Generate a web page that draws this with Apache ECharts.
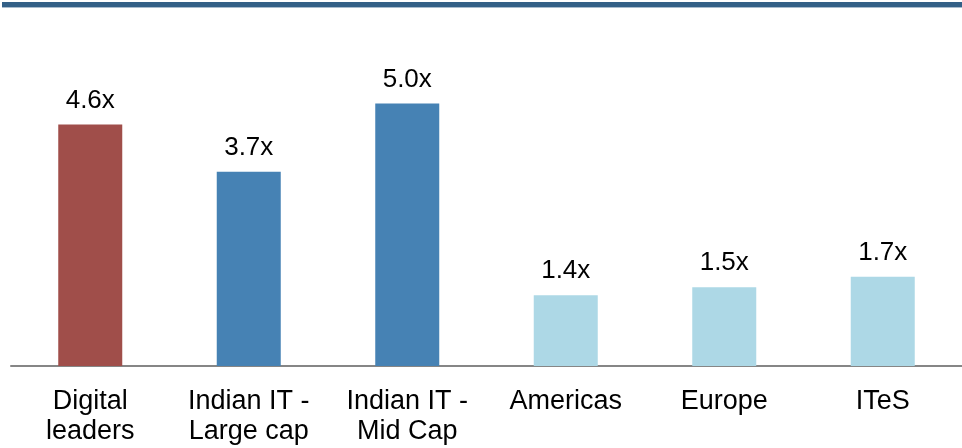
<!DOCTYPE html>
<html><head><meta charset="utf-8">
<script src="https://cdn.jsdelivr.net/npm/echarts@6/dist/echarts.min.js"></script>
<style>html,body{margin:0;padding:0;background:#fff}#c{width:962px;height:448px}</style>
</head><body><div id="c"></div>
<script>
const categories = ["Digital\nleaders", "Indian IT -\nLarge cap", "Indian IT -\nMid Cap", "Americas", "Europe", "ITeS"];
const values = [4.6, 3.7, 5.0, 1.35, 1.5, 1.7];
const barColors = ["#A04E4A", "#4682B4", "#4682B4", "#ADD8E6", "#ADD8E6", "#ADD8E6"];

const chart = echarts.init(document.getElementById('c'), null, {renderer: 'canvas'});
chart.setOption({
  animation: false,
  graphic: [
    {type: 'rect', shape: {x: 2, y: 2, width: 962, height: 5}, style: {fill: '#336087'}},
    {type: 'rect', shape: {x: 2, y: 7, width: 962, height: 1}, style: {fill: '#A9BCCD'}}
  ],
  grid: {left: 11, top: 51, width: 962, height: 315, containLabel: false},
  xAxis: {
    type: 'category', data: categories,
    axisLine: {lineStyle: {color: '#868686', width: 2}},
    axisTick: {show: false},
    axisLabel: {color: '#000', fontFamily: 'Liberation Sans, Arial', fontSize: 27, lineHeight: 30, margin: 21, interval: 0}
  },
  yAxis: {type: 'value', min: 0, max: 6, show: false, splitLine: {show: false}},
  series: [{
    type: 'bar', barWidth: 64,
    data: values.map((v, i) => ({value: v, itemStyle: {color: barColors[i]}})),
    label: {show: true, position: 'top', distance: 11, color: '#000', fontFamily: 'Liberation Sans, Arial', fontSize: 26,
      formatter: p => p.value.toFixed(1) + 'x'}
  }]
});
</script></body></html>
